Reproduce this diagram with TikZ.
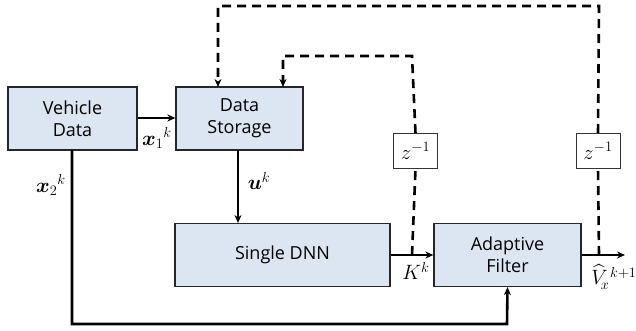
\documentclass[tikz,border=0pt]{standalone}
\usepackage{amsmath,bm}
\usepackage{fontspec}
\setsansfont{Open Sans}
\usetikzlibrary{arrows.meta,calc}
\definecolor{boxfill}{HTML}{DCE6F2}
\tikzset{
  blk/.style={draw=black!85, line width=1.3pt, fill=boxfill, minimum width=#1, minimum height=63pt, inner sep=0pt, align=center, font=\sffamily\fontsize{18}{22}\selectfont},
  blk/.default=128pt,
  dly/.style={draw=black!80, line width=0.8pt, fill=white, minimum width=44pt, minimum height=35pt, inner sep=0pt, font=\fontsize{21}{24}\selectfont},
  sig/.style={line width=2pt, -{Stealth[length=8pt,width=7pt]}},
  fb/.style={line width=2.6pt, dash pattern=on 9pt off 6pt, -{Stealth[length=8pt,width=7pt]}},
  lbl/.style={font=\fontsize{20}{24}\selectfont, inner sep=0pt}
}
\begin{document}
\begin{tikzpicture}[x=1pt,y=-1pt]
\useasboundingbox (0,0) rectangle (636,331);
\node[blk=129pt] (veh) at (72.5,118.5) {Vehicle\\Data};
\node[blk=127pt] (sto) at (239.5,118.5) {Data\\Storage};
\node[blk=215pt] (dnn) at (282.5,255) {Single DNN};
\node[blk=147pt] (flt) at (507.5,255) {Adaptive\\Filter};
\node[dly] (z1) at (415.5,151) {$z^{-1}$};
\node[dly] (z2) at (598,151) {$z^{-1}$};
\coordinate (out) at (625,255);
\coordinate (j1) at (412,255);
\coordinate (j2) at (599,255);
% solid signals
\draw[sig] (veh.east |- 0,118) -- (sto.west |- 0,118);
\draw[sig] (238,150) -- (238,223);
\draw[sig] (dnn.east) -- (flt.west);
\draw[sig] (flt.east) -- (out);
\draw[line width=2.6pt, -{Stealth[length=8pt,width=7pt]}] (72,150) -- (72,324) -- (507,324) -- (flt.south);
% feedback
\draw[line width=2.6pt, dash pattern=on 9pt off 6pt] (j1) -- (z1.south);
\draw[line width=2.6pt, dash pattern=on 9pt off 6pt] (j2) -- (z2.south);
\draw[fb] (z1.north) -- (412,56) -- (283,56) -- (283,87);
\draw[fb] (z2.north |- 0,133) -- (599,6) -- (218,6) -- (218,87);
% labels
\node[lbl] (l1) at (157,138) {$\bm{x}_1{}^k$};
\node[lbl] (l2) at (51,185) {$\bm{x}_2{}^k$};
\node[lbl] (l3) at (259,181) {$\bm{u}^k$};
\node[lbl] (l4) at (416,271) {$K^k$};
\node[lbl] (l5) at (614,277) {$\widehat{V}_{\!x}^{\,k+1}$};
\end{tikzpicture}
\end{document}
